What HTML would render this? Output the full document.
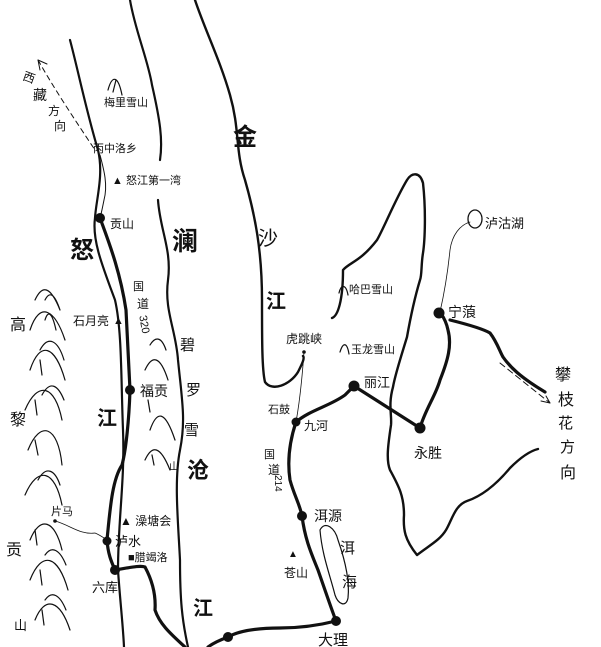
<!DOCTYPE html>
<html><head><meta charset="utf-8"><style>
html,body{margin:0;padding:0;background:#fff;}
svg{display:block;}
text{font-family:"Liberation Sans","Noto Sans CJK SC","WenQuanYi Zen Hei",sans-serif;fill:#111;}
</style></head><body>
<svg width="601" height="647" viewBox="0 0 601 647" xmlns="http://www.w3.org/2000/svg">
<g fill="none" stroke="#111" stroke-linecap="round" stroke-linejoin="round">
<path d="M70,40 C78,70 86,110 98,150 C104,175 96,200 95,218 C92,240 102,265 115,300 C122,330 121,380 123,430 C125,480 118,520 118,570 C120,600 123,625 124,647" stroke-width="2.2"/>
<path d="M130,0 C135,30 148,60 152,85 C160,120 163,140 160,160" stroke-width="2.2"/>
<path d="M158,200 C160,230 172,250 168,280 C164,310 176,330 178,360 C182,400 186,420 180,450 C174,480 178,520 180,560 C180,600 182,620 188,647" stroke-width="2.2"/>
<path d="M195,0 C205,30 220,60 230,95 C240,130 235,150 245,180 C255,215 262,250 262,300 C262,340 262,370 265,382 C272,392 290,385 298,372 C302,364 305,358 303,356" stroke-width="2.4"/>
<path d="M332,318 C338,316 343,300 343,270 C350,262 360,262 377,240 C384,228 395,200 407,180 C412,172 420,172 423,183 C426,210 425,240 423,253 C421,265 422,275 420,280 C414,300 410,320 407,337 C400,360 395,375 393,387 C388,405 392,415 391,425 C388,445 386,460 390,470 C398,485 404,495 404,515 C403,530 405,540 417,555 C430,545 440,540 446,530 C452,520 455,505 467,501 C485,495 500,480 510,468 C520,458 530,451 538,449" stroke-width="2.4"/>
<path d="M100,218 C108,240 120,270 126,310 C128,350 130,390 130,390 C129,420 126,450 122,465 C112,480 110,510 107,540 C108,555 112,563 115,570 C128,568 140,565 145,567 C152,580 156,595 155,610 C160,625 172,635 185,647" stroke-width="3.2"/>
<path d="M336,621 C320,625 300,628 280,628 C260,628 240,630 228,637 C220,640 212,644 208,647" stroke-width="3.2"/>
<path d="M296,422 C290,440 287,460 290,480 C294,495 300,505 302,516 C305,540 312,555 318,570 C325,590 330,605 336,621" stroke-width="3.2"/>
<path d="M296,422 C310,410 330,406 345,395 L354,386 L420,428 C425,410 436,395 440,380 C448,360 452,345 448,330 C446,320 442,315 440,312" stroke-width="3.2"/>
<path d="M450,320 C470,325 485,330 490,333 C497,342 500,352 503,357 C510,367 520,377 545,392" stroke-width="3.2"/>
<path d="M100,155 C104,170 108,185 104,200 C102,210 101,215 100,218" stroke-width="1"/>
<path d="M55,521 C70,525 80,535 95,533 C100,535 104,538 107,540" stroke-width="0.8"/>
<path d="M304,352 C302,380 300,400 296,422" stroke-width="0.8"/>
<path d="M440,312 C445,290 448,270 450,250 C452,235 460,225 470,222" stroke-width="0.8"/>
<path d="M38,60 C55,90 75,120 95,150" stroke-width="1" stroke-dasharray="5,4"/>
<path d="M38,60 L40,70 M38,60 L47,64" stroke-width="1"/>
<path d="M500,363 L550,403" stroke-width="1" stroke-dasharray="6,4"/>
<path d="M550,403 L541,401 M550,403 L546,396" stroke-width="1"/>
<ellipse cx="475" cy="219" rx="7" ry="9" stroke-width="1.3"/>
<path d="M320,530 C325,520 335,528 338,540 C345,560 350,580 348,598 C346,608 338,604 335,595 C330,575 322,555 320,530 Z" stroke-width="1.2"/>
<g stroke-width="1.2">
<path d="M108,90 C112,75 118,75 122,95"/><path d="M113,92 L116,80"/>
<path d="M35,300 C42,285 50,285 60,310 M45,300 C50,290 55,295 60,310 M30,330 C40,300 55,310 65,340 M45,320 C48,310 52,312 56,330"/>
<path d="M30,370 C40,340 55,345 65,380 M40,360 L42,375 M25,410 C38,380 55,385 62,420 M35,400 L37,415 M28,450 C40,420 58,425 62,465 M35,440 L38,455 M25,495 C38,465 55,470 62,505"/>
<path d="M40,350 C48,335 58,340 64,360 M42,395 C50,380 58,385 64,400 M38,480 C46,465 55,470 60,485"/>
<path d="M30,540 C40,515 55,520 62,550 M35,530 L37,545 M30,580 C42,550 58,555 68,590 M40,570 L42,585 M35,620 C45,595 60,600 70,630 M42,610 L44,625 M45,555 C52,545 60,550 66,565 M45,600 C52,590 60,595 66,610"/>
<path d="M145,370 C152,355 160,355 168,380 M150,430 C157,410 165,410 175,440 M145,460 C152,445 160,445 170,470 M148,400 L150,412 M152,455 L154,465 M150,345 C156,335 162,338 166,350"/>
<path d="M339,293 C341,284 346,284 348,295 M340,352 C343,342 347,342 349,354"/>
</g>
</g>
<g fill="#111">
<circle cx="100" cy="218" r="5"/><circle cx="130" cy="390" r="5"/><circle cx="107" cy="541" r="4.5"/><circle cx="115" cy="570" r="5"/>
<circle cx="296" cy="422" r="4.5"/><circle cx="354" cy="386" r="5.5"/><circle cx="420" cy="428" r="5.5"/><circle cx="439" cy="313" r="5.5"/>
<circle cx="302" cy="516" r="5"/><circle cx="336" cy="621" r="5"/><circle cx="228" cy="637" r="5"/>
<circle cx="304" cy="352" r="1.8"/><circle cx="55" cy="521" r="1.8"/>
</g>
<g font-size="12">
<text x="23" y="82" transform="rotate(20 30 78)">西</text>
<text x="33" y="100" font-size="14">藏</text>
<text x="48" y="115">方</text>
<text x="54" y="130">向</text>
<text x="104" y="106" font-size="11">梅里雪山</text>
<text x="93" y="152" font-size="11">丙中洛乡</text>
<text x="112" y="184" font-size="11">▲ 怒江第一湾</text>
<text x="110" y="228" font-size="12">贡山</text>
<text x="70" y="258" font-size="24" font-weight="bold">怒</text>
<text x="172" y="250" font-size="26" font-weight="bold">澜</text>
<text x="233" y="145" font-size="24" font-weight="bold">金</text>
<text x="258" y="245" font-size="20">沙</text>
<text x="266" y="308" font-size="20" font-weight="bold">江</text>
<text x="133" y="290" font-size="11">国</text>
<text x="137" y="308" font-size="12">道</text>
<text x="140" y="325" font-size="11" transform="rotate(80 145 320)">320</text>
<text x="73" y="325" font-size="12">石月亮</text>
<text x="113" y="324" font-size="11">▲</text>
<text x="10" y="330" font-size="16">高</text>
<text x="10" y="425" font-size="16">黎</text>
<text x="6" y="555" font-size="16">贡</text>
<text x="14" y="630" font-size="13">山</text>
<text x="140" y="396" font-size="14">福贡</text>
<text x="97" y="425" font-size="20" font-weight="bold">江</text>
<text x="180" y="350" font-size="15">碧</text>
<text x="186" y="395" font-size="15">罗</text>
<text x="184" y="435" font-size="15">雪</text>
<text x="169" y="470" font-size="10">山</text>
<text x="187" y="478" font-size="22" font-weight="bold">沧</text>
<text x="51" y="515" font-size="11">片马</text>
<text x="120" y="525" font-size="12">▲ 澡塘会</text>
<text x="115" y="546" font-size="13">泸水</text>
<text x="128" y="561" font-size="11">■腊竭洛</text>
<text x="92" y="592" font-size="13">六库</text>
<text x="193" y="615" font-size="20" font-weight="bold">江</text>
<text x="268" y="413" font-size="11">石鼓</text>
<text x="304" y="430" font-size="12">九河</text>
<text x="264" y="458" font-size="11">国</text>
<text x="268" y="474" font-size="12">道</text>
<text x="270" y="480" font-size="10" transform="rotate(90 275 480)">214</text>
<text x="314" y="521" font-size="14">洱源</text>
<text x="340" y="553" font-size="15">洱</text>
<text x="342" y="587" font-size="15">海</text>
<text x="288" y="557" font-size="10">▲</text>
<text x="284" y="577" font-size="12">苍山</text>
<text x="318" y="645" font-size="15">大理</text>
<text x="286" y="343" font-size="12">虎跳峡</text>
<text x="338" y="293" font-size="11">　哈巴雪山</text>
<text x="340" y="353" font-size="11">　玉龙雪山</text>
<text x="364" y="387" font-size="13">丽江</text>
<text x="414" y="458" font-size="14">永胜</text>
<text x="448" y="317" font-size="14">宁蒗</text>
<text x="485" y="228" font-size="13">泸沽湖</text>
<text x="555" y="380" font-size="16">攀</text>
<text x="558" y="405" font-size="16">枝</text>
<text x="558" y="428" font-size="15">花</text>
<text x="560" y="452" font-size="15">方</text>
<text x="560" y="478" font-size="16">向</text>
</g>
</svg>
</body></html>
